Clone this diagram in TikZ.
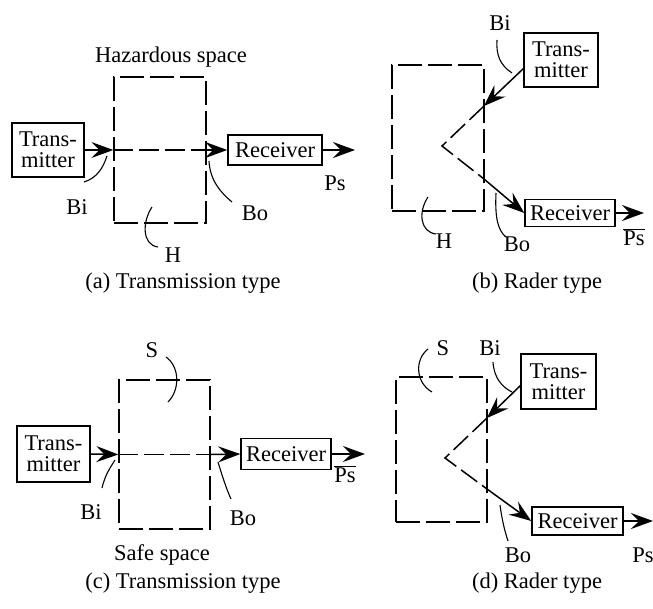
\documentclass[tikz,border=0pt]{standalone}
\usepackage{fontspec}
\setmainfont{Liberation Serif}
\usetikzlibrary{arrows.meta,calc}
\begin{document}
\begin{tikzpicture}[x=1pt,y=-1pt,
  font=\fontsize{22.5}{21}\selectfont,
  box/.style={draw,line width=1.5pt,inner sep=0pt,align=center},
  zone/.style={draw,line width=1.4pt,dash pattern=on 24pt off 6pt,inner sep=0pt},
  dbeam/.style={line width=1.5pt,dash pattern=on 20pt off 6pt},
  arr/.style={line width=1.5pt,-{Stealth[length=22pt,width=16pt,inset=8pt]}},
  lead/.style={line width=1.1pt},
  lbl/.style={inner sep=0pt}
]
\useasboundingbox (0,0) rectangle (653,608);

% ---------- (a) ----------
\node[zone,minimum width=92pt,minimum height=146pt] (ahz) at (160,150) {};
\node[box,minimum width=72pt,minimum height=54pt] (atx) at (48,150) {Trans-\\mitter};
\node[box,minimum width=94pt,minimum height=30pt] (arx) at (275,150) {Receiver};
\coordinate (aps) at (355,150);
\draw[arr] (atx.east) -- (ahz.west);
\draw[dbeam] (ahz.west) -- (ahz.east);
\draw[arr] (ahz.east) -- (arx.west);
\draw[arr] (arx.east) -- (aps);
\node[lbl] (ahaz) at (171,57) {Hazardous space};
\node[lbl] (abi) at (77,207) {Bi};
\node[lbl] (abo) at (255,213) {Bo};
\node[lbl] (ah) at (173,255) {H};
\node[lbl] (aplbl) at (335,183) {Ps};
\node[lbl] (acap) at (183,283) {(a) Transmission type};
\draw[lead] (84,182) .. controls (97,178) and (103,168) .. (107,156);
\draw[lead] (209,161) .. controls (210,180) and (220,192) .. (232,202);
\draw[lead] (152,207) .. controls (142,222) and (142,245) .. (158,247);

% ---------- (b) ----------
\node[zone,minimum width=92pt,minimum height=146pt] (bhz) at (438,138) {};
\node[box,minimum width=74pt,minimum height=54pt] (btx) at (561,60) {Trans-\\mitter};
\node[box,minimum width=90pt,minimum height=27pt] (brx) at (570,213) {Receiver};
\coordinate (bs) at (524,68);
\coordinate (bin) at (484,106);
\coordinate (bv) at (442,146);
\coordinate (bout) at (484,179);
\coordinate (bps) at (644,213);
\draw[arr] (bs) -- (bin);
\draw[dbeam] (bin) -- (bv) -- (bout);
\draw[arr] (bout) -- (brx.west);
\draw[arr] (brx.east) -- (bps);
\node[lbl] (bbi) at (500,23) {Bi};
\node[lbl] (bh) at (444,241) {H};
\node[lbl] (bbo) at (517,244) {Bo};
\node[lbl] (bplbl) at (634,237) {$\overline{\hbox{Ps}}$};
\node[lbl] (bcap) at (537,283) {(b) Rader type};
\draw[lead] (497,40) .. controls (496,55) and (500,65) .. (512,73);
\draw[lead] (428,197) .. controls (418,212) and (420,232) .. (436,234);
\draw[lead] (496,193) .. controls (495,215) and (497,230) .. (506,237);

% ---------- (c) ----------
\node[zone,minimum width=91pt,minimum height=149pt] (chz) at (164.5,454.5) {};
\node[box,minimum width=73pt,minimum height=56pt] (ctx) at (53.5,454) {Trans-\\mitter};
\node[box,minimum width=90pt,minimum height=31pt] (crx) at (286,454) {Receiver};
\coordinate (cps) at (365,454);
\draw[arr] (ctx.east) -- (chz.west);
\draw[dbeam] (chz.west) -- (chz.east);
\draw[arr] (chz.east) -- (crx.west);
\draw[arr] (crx.east) -- (cps);
\node[lbl] (cs) at (152,350) {S};
\node[lbl] (cbi) at (91,512) {Bi};
\node[lbl] (cbo) at (243,518) {Bo};
\node[lbl] (csafe) at (162,555) {Safe space};
\node[lbl] (cplbl) at (345,474) {$\overline{\hbox{Ps}}$};
\node[lbl] (ccap) at (183,583) {(c) Transmission type};
\draw[lead] (102,488) .. controls (105,475) and (110,468) .. (115,460);
\draw[lead] (218,462) .. controls (222,475) and (226,488) .. (231,499);
\draw[lead] (166,357) .. controls (180,367) and (180,390) .. (168,402);

% ---------- (d) ----------
\node[zone,minimum width=91pt,minimum height=145pt] (dhz) at (441.5,449.5) {};
\node[box,minimum width=75pt,minimum height=55pt] (dtx) at (558.5,381.5) {Trans-\\mitter};
\node[box,minimum width=91pt,minimum height=28pt] (drx) at (577.5,521) {Receiver};
\coordinate (ds) at (521,385);
\coordinate (din) at (487,418);
\coordinate (dv) at (445,458);
\coordinate (dout) at (487,489);
\coordinate (dps) at (653,521);
\draw[arr] (ds) -- (din);
\draw[dbeam] (din) -- (dv) -- (dout);
\draw[arr] (dout) -- (drx.west);
\draw[arr] (drx.east) -- (dps);
\node[lbl] (dsl) at (443,348) {S};
\node[lbl] (dbi) at (490,348) {Bi};
\node[lbl] (dbo) at (518,555) {Bo};
\node[lbl] (dplbl) at (643,555) {Ps};
\node[lbl] (dcap) at (537,583) {(d) Rader type};
\draw[lead] (428,349) .. controls (414,360) and (416,383) .. (432,392);
\draw[lead] (493,362) .. controls (494,378) and (502,387) .. (512,392);
\draw[lead] (500,505) .. controls (502,520) and (505,532) .. (508,541);
\end{tikzpicture}
\end{document}
